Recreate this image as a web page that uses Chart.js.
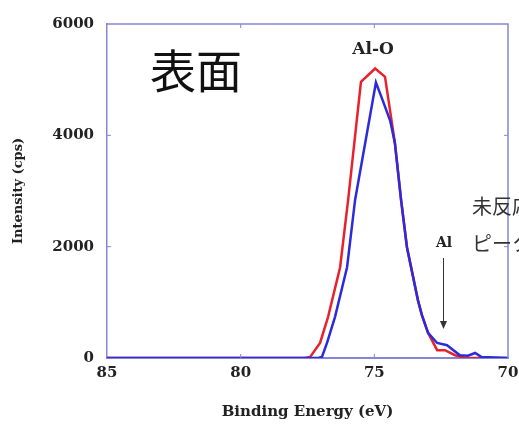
<!DOCTYPE html>
<html>
<head>
<meta charset="utf-8">
<script src="https://cdn.jsdelivr.net/npm/chart.js@4.4.0/dist/chart.umd.min.js"></script>
<style>
  html, body { margin: 0; padding: 0; background: #fff; }
  #wrap { width: 519px; height: 426px; }
</style>
</head>
<body>
<div id="wrap"><canvas id="grafica" width="519" height="426"></canvas></div>
<script>
// binding energy (eV) / counts
const energyRed = [85, 77.6, 77.4, 77.03, 76.73, 76.28, 75.98, 75.5, 74.97, 74.6, 74.23, 74.0, 73.78, 73.37, 73.22, 72.99, 72.65, 72.36, 71.98, 71.6, 70];
const countsRed = [0, 0, 20, 270, 740, 1630, 2840, 4960, 5200, 5050, 3860, 2840, 1990, 1040, 770, 450, 140, 140, 50, 0, 0];

const energyBlue = [85, 77.1, 76.96, 76.77, 76.47, 76.02, 75.72, 74.94, 74.68, 74.4, 74.23, 74.0, 73.78, 73.37, 73.22, 72.99, 72.65, 72.28, 71.8, 71.5, 71.23, 71.0, 70];
const countsBlue = [0, 0, 20, 270, 740, 1630, 2840, 4950, 4620, 4250, 3860, 2840, 1990, 1040, 770, 450, 270, 230, 50, 40, 90, 20, 0];

const xTicks = [85, 80, 75, 70];
const yTicks = [0, 2000, 4000, 6000];

const axisColor = '#8585d6';
const textColor = '#222';

function toPoints(xs, ys) {
    return xs.map((x, i) => ({ x: x, y: ys[i] }));
}

// frame, inner ticks and the notes on the plot
const notesPlugin = {
    id: 'notes',
    afterDraw(chart) {
        const ctx = chart.ctx;
        const a = chart.chartArea;
        const xs = chart.scales.x;
        const ys = chart.scales.y;
        ctx.save();

        ctx.strokeStyle = axisColor;
        ctx.lineWidth = 1.5;
        ctx.beginPath();
        ctx.moveTo(a.left, a.top);
        ctx.lineTo(a.right, a.top);
        ctx.lineTo(a.right, a.bottom);
        ctx.stroke();

        ctx.lineWidth = 1;
        xTicks.slice(1, 3).forEach(v => {
            const px = xs.getPixelForValue(v);
            ctx.beginPath();
            ctx.moveTo(px, a.bottom); ctx.lineTo(px, a.bottom - 4);
            ctx.moveTo(px, a.top); ctx.lineTo(px, a.top + 4);
            ctx.stroke();
        });
        yTicks.slice(1, 3).forEach(v => {
            const py = ys.getPixelForValue(v);
            ctx.beginPath();
            ctx.moveTo(a.left, py); ctx.lineTo(a.left + 4, py);
            ctx.moveTo(a.right, py); ctx.lineTo(a.right - 4, py);
            ctx.stroke();
        });

        ctx.fillStyle = '#111';
        ctx.textBaseline = 'middle';
        ctx.textAlign = 'left';
        ctx.font = '46px "Noto Sans CJK JP"';
        ctx.fillText('表面', 150, 71);

        ctx.fillStyle = textColor;
        ctx.textAlign = 'center';
        ctx.font = 'bold 17px "DejaVu Serif"';
        ctx.fillText('Al-O', 373, 50);

        ctx.font = 'bold 14px "DejaVu Serif"';
        ctx.fillText('Al', 444, 243);

        // arrow to the metal peak
        ctx.strokeStyle = '#333';
        ctx.fillStyle = '#333';
        ctx.lineWidth = 1;
        ctx.beginPath();
        ctx.moveTo(443.5, 258);
        ctx.lineTo(443.5, 322);
        ctx.stroke();
        ctx.beginPath();
        ctx.moveTo(440, 321);
        ctx.lineTo(447, 321);
        ctx.lineTo(443.5, 329);
        ctx.closePath();
        ctx.fill();

        ctx.textAlign = 'left';
        ctx.fillStyle = '#333';
        ctx.font = '20px "Noto Sans CJK JP"';
        ctx.fillText('未反応', 472, 206);
        ctx.fillText('ピーク', 472, 243);

        ctx.restore();
    }
};

const chartData = {
    datasets: [{
        label: 'blue',
        data: toPoints(energyBlue, countsBlue),
        borderColor: '#2b2bdc',
        borderWidth: 2.5,
        pointRadius: 0,
        tension: 0,
        fill: false
    }, {
        label: 'red',
        data: toPoints(energyRed, countsRed),
        borderColor: '#e8222c',
        borderWidth: 2.5,
        pointRadius: 0,
        tension: 0,
        fill: false
    }]
};

const config = {
    type: 'line',
    data: chartData,
    options: {
        responsive: false,
        animation: { duration: 0 },
        layout: { padding: { top: 24, right: 11, left: 0, bottom: 0 } },
        plugins: {
            legend: { display: false },
            tooltip: { enabled: false }
        },
        scales: {
            x: {
                type: 'linear',
                reverse: true,
                min: 70,
                max: 85,
                afterFit: scale => {
                    scale.height = 68;
                    scale.paddingLeft = 0;
                    scale.paddingRight = 0;
                },
                afterBuildTicks: scale => { scale.ticks = xTicks.map(v => ({ value: v })); },
                grid: { display: false, drawTicks: false },
                border: { color: axisColor, width: 2 },
                ticks: {
                    padding: 6,
                    color: textColor,
                    callback: v => String(v),
                    font: { family: 'DejaVu Serif', size: 15, weight: 'bold' }
                },
                title: {
                    display: true,
                    text: 'Binding Energy (eV)',
                    color: textColor,
                    padding: { top: 0, bottom: 5 },
                    font: { family: 'DejaVu Serif', size: 15, weight: 'bold' }
                }
            },
            y: {
                min: 0,
                max: 6000,
                afterFit: scale => {
                    scale.width = 107;
                    scale.paddingTop = 0;
                    scale.paddingBottom = 0;
                },
                afterBuildTicks: scale => { scale.ticks = yTicks.map(v => ({ value: v })); },
                grid: { display: false, drawTicks: false },
                border: { color: axisColor, width: 1.5 },
                ticks: {
                    padding: 13,
                    color: textColor,
                    callback: v => String(v),
                    font: { family: 'DejaVu Serif', size: 15, weight: 'bold' }
                },
                title: {
                    display: true,
                    text: 'Intensity (cps)',
                    color: textColor,
                    padding: { top: 11, bottom: 0 },
                    font: { family: 'DejaVu Serif', size: 13, weight: 'bold' }
                }
            }
        }
    },
    plugins: [notesPlugin]
};

document.addEventListener('DOMContentLoaded', function() {
    const ctx = document.getElementById('grafica').getContext('2d');
    window.myChart = new Chart(ctx, config);
});
</script>
</body>
</html>
